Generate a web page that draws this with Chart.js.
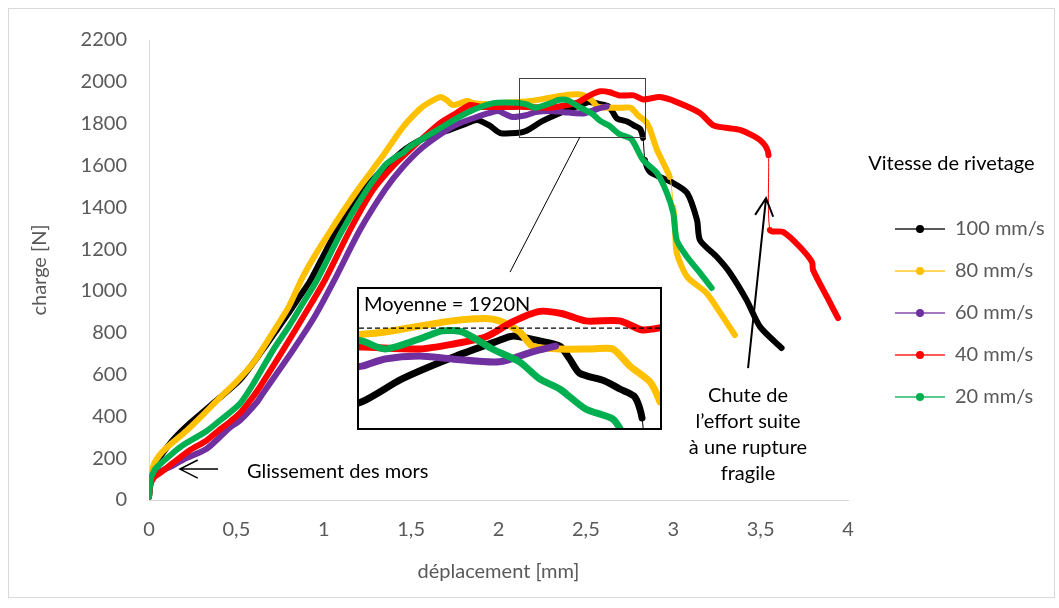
<!DOCTYPE html>
<html>
<head>
<meta charset="utf-8">
<script src="https://cdn.jsdelivr.net/npm/chart.js@4.4.0/dist/chart.umd.min.js"></script>
<style>
  body { margin: 0; background: #fff; }
  #wrap { position: relative; width: 1059px; height: 608px; overflow: hidden; background: #fff; }
  #frame { position: absolute; left: 8px; top: 8px; width: 1047px; height: 590px; border: 1px solid #d9d9d9; box-sizing: border-box; }
  #main { position: absolute; left: 0; top: 0; }
  #insetBox { position: absolute; left: 357px; top: 287px; width: 305px; height: 143px; border: 2px solid #000; box-sizing: border-box; background: #fff; }
  #inset { position: absolute; left: 0; top: 0; }
  .note { position: absolute; font-family: Lato, sans-serif; font-size: 20px; line-height: 24px; color: #000; white-space: nowrap; }
</style>
</head>
<body>
<div id="wrap">
  <div id="frame"></div>
  <canvas id="main" width="1059" height="608"></canvas>
  <div id="insetBox"><canvas id="inset" width="301" height="139"></canvas></div>
  <div class="note" style="left:364px;top:291px;">Moyenne = 1920N</div>
  <div class="note" style="left:247px;top:458px;">Glissement des mors</div>
  <div class="note" style="left:673px;top:381px;width:150px;text-align:center;line-height:26px;">Chute de<br>l’effort suite<br>à une rupture<br>fragile</div>
</div>
<script>
// déplacement [mm] / charge [N]
var d100 = [0, 0.01, 0.03, 0.063, 0.137, 0.235, 0.389, 0.52, 0.65, 0.72,
  0.8, 0.86, 0.92, 0.98, 1.076, 1.15, 1.23, 1.33, 1.47, 1.6,
  1.72, 1.8, 1.877, 1.95, 2.01, 2.1, 2.157, 2.253, 2.373, 2.476,
  2.517, 2.582, 2.63, 2.654, 2.678, 2.735, 2.774, 2.81, 2.827, 2.838,
  2.867, 3.0, 3.08, 3.136, 3.153, 3.25, 3.325, 3.42, 3.497, 3.62];
var f100 = [15, 100, 160, 206, 287, 368, 478, 574, 717, 800,
  895, 970, 1045, 1140, 1291, 1390, 1483, 1575, 1680, 1740,
  1770, 1795, 1817, 1790, 1755, 1755, 1765, 1813, 1858, 1891,
  1903, 1893, 1882, 1855, 1825, 1810, 1792, 1775, 1731, 1626,
  1569, 1516, 1468, 1339, 1243, 1162, 1086, 956, 828, 727];

var d80 = [0, 0.01, 0.03, 0.06, 0.1, 0.2, 0.3, 0.4, 0.5, 0.6,
  0.7, 0.8, 0.88, 0.95, 1.018, 1.11, 1.2, 1.333, 1.45, 1.55,
  1.6, 1.665, 1.7, 1.74, 1.82, 1.86, 1.95, 2.05, 2.198, 2.294,
  2.373, 2.45, 2.486, 2.534, 2.565, 2.63, 2.709, 2.757, 2.798, 2.846,
  2.87, 2.907, 2.95, 2.98, 2.99, 3.0, 3.01, 3.02, 3.08, 3.19,
  3.27, 3.353];
var f80 = [15, 110, 175, 215, 250, 320, 400, 485, 565, 660,
  790, 925, 1067, 1170, 1260, 1380, 1490, 1640, 1780, 1870,
  1900, 1927, 1915, 1889, 1908, 1898, 1893, 1900, 1910, 1924,
  1935, 1940, 1935, 1912, 1882, 1876, 1876, 1876, 1840, 1807,
  1765, 1674, 1600, 1545, 1497, 1400, 1300, 1181, 1067, 990,
  894, 789];

var d60 = [0, 0.01, 0.03, 0.06, 0.137, 0.2, 0.33, 0.46, 0.52, 0.62,
  0.652, 0.824, 0.95, 1.06, 1.207, 1.35, 1.45, 1.568, 1.705, 1.78,
  1.87, 1.95, 2.0, 2.04, 2.08, 2.157, 2.212, 2.294, 2.373, 2.486,
  2.565, 2.62];
var f60 = [15, 80, 110, 135, 165, 195, 245, 345, 380, 470,
  510, 717, 880, 1050, 1291, 1483, 1590, 1688, 1770, 1803,
  1830, 1851, 1860, 1845, 1832, 1840, 1855, 1861, 1855, 1849,
  1870, 1882];

var d40 = [0, 0.01, 0.03, 0.063, 0.137, 0.235, 0.33, 0.395, 0.46, 0.52,
  0.56, 0.618, 0.767, 0.9, 1.007, 1.15, 1.282, 1.4, 1.51, 1.665,
  1.76, 1.837, 1.9, 2.05, 2.157, 2.294, 2.373, 2.452, 2.517, 2.582,
  2.637, 2.692, 2.774, 2.829, 2.924, 3.02, 3.153, 3.227, 3.3, 3.382,
  3.45, 3.496, 3.53, 3.545, 3.553, 3.628, 3.725, 3.794, 3.8, 3.88,
  3.943];
var f40 = [15, 80, 110, 129, 177, 239, 285, 330, 372, 415,
  455, 520, 717, 900, 1052, 1291, 1483, 1600, 1688, 1803,
  1851, 1889, 1880, 1880, 1880, 1876, 1886, 1901, 1933, 1955,
  1950, 1935, 1935, 1916, 1927, 1903, 1851, 1793, 1780, 1770,
  1745, 1722, 1690, 1650, 1291, 1282, 1210, 1138, 1100, 971,
  870];

var d20 = [0, 0.01, 0.03, 0.046, 0.137, 0.2, 0.33, 0.42, 0.52, 0.6,
  0.71, 0.8, 0.88, 0.96, 1.1, 1.236, 1.35, 1.42, 1.453, 1.49,
  1.65, 1.817, 1.97, 2.1, 2.157, 2.212, 2.294, 2.349, 2.397, 2.469,
  2.534, 2.582, 2.63, 2.692, 2.757, 2.78, 2.827, 2.907, 2.964, 3.0,
  3.02, 3.08, 3.153, 3.22];
var f20 = [15, 100, 140, 158, 225, 265, 330, 390, 460, 560,
  717, 830, 940, 1050, 1280, 1470, 1600, 1645, 1660, 1688,
  1770, 1851, 1898, 1900, 1893, 1876, 1897, 1914, 1912, 1876,
  1849, 1813, 1792, 1750, 1729, 1700, 1626, 1564, 1468, 1373,
  1243, 1162, 1086, 1014];

// segments with only a few points (drawn as thin line)
var thin100 = [2.827];
var thin80 = [2.98, 2.99];
var thin40 = [3.545];

var speeds = ['100 mm/s', '80 mm/s', '60 mm/s', '40 mm/s', '20 mm/s'];
var colors = ['#000000', '#FFC000', '#7030A0', '#FF0000', '#00B050'];

var xTicks = [0, 4, 0.5];
var yTicks = [0, 2200, 200];
var zoomBoxX = [2.117, 2.838];
var zoomBoxY = [1736, 2018];
var insetX = [2.15, 2.87];
var insetY = [1710, 2002];
var meanLoad = 1920;

var series = [
  [d100, f100, thin100],
  [d80, f80, thin80],
  [d60, f60, []],
  [d40, f40, thin40],
  [d20, f20, []]
];

Chart.defaults.font.family = 'Lato, sans-serif';
Chart.defaults.font.size = 20;
Chart.defaults.color = '#595959';

function pts(xs, ys) {
  return xs.map(function (x, i) { return { x: x, y: ys[i] }; });
}

function makeDataset(i, width) {
  var s = series[i];
  return {
    label: speeds[i],
    data: pts(s[0], s[1]),
    borderColor: colors[i],
    backgroundColor: colors[i],
    borderWidth: width,
    borderCapStyle: 'round',
    borderJoinStyle: 'round',
    pointRadius: 0,
    tension: 0.25,
    order: 5 - i,
    segment: {
      borderWidth: function (ctx) {
        return s[2].indexOf(s[0][ctx.p0DataIndex]) >= 0 ? 1 : width;
      }
    }
  };
}

function legendIcon(color) {
  var c = document.createElement('canvas');
  c.width = 75; c.height = 12;
  var g = c.getContext('2d');
  g.globalAlpha = 0.65;
  g.strokeStyle = color; g.lineWidth = 2;
  g.beginPath(); g.moveTo(25, 6); g.lineTo(75, 6); g.stroke();
  g.globalAlpha = 1;
  g.fillStyle = color;
  g.beginPath(); g.arc(50, 6, 4, 0, Math.PI * 2); g.fill();
  return c;
}
var icons = colors.map(legendIcon);

function arrow(ctx, x0, y0, x1, y1, len, w) {
  var a = Math.atan2(y1 - y0, x1 - x0), h = 0.47;
  ctx.lineWidth = w;
  ctx.beginPath();
  ctx.moveTo(x0, y0); ctx.lineTo(x1, y1);
  ctx.moveTo(x1 - len * Math.cos(a - h), y1 - len * Math.sin(a - h));
  ctx.lineTo(x1, y1);
  ctx.lineTo(x1 - len * Math.cos(a + h), y1 - len * Math.sin(a + h));
  ctx.stroke();
}

var notes = {
  id: 'notes',
  afterDatasetsDraw: function (chart) {
    var ctx = chart.ctx, x = chart.scales.x, y = chart.scales.y;
    ctx.save();
    ctx.strokeStyle = '#404040';
    ctx.lineWidth = 1;
    var bx0 = x.getPixelForValue(zoomBoxX[0]), bx1 = x.getPixelForValue(zoomBoxX[1]);
    var by0 = y.getPixelForValue(zoomBoxY[1]), by1 = y.getPixelForValue(zoomBoxY[0]);
    ctx.strokeRect(Math.round(bx0) + 0.5, Math.round(by0) + 0.5, Math.round(bx1 - bx0), Math.round(by1 - by0));
    ctx.strokeStyle = '#000';
    ctx.beginPath();
    ctx.moveTo(x.getPixelForValue(2.466), by1);
    ctx.lineTo(x.getPixelForValue(2.066), y.getPixelForValue(1090));
    ctx.stroke();
    arrow(ctx, x.getPixelForValue(0.395), y.getPixelForValue(148), x.getPixelForValue(0.177), y.getPixelForValue(148), 20, 1.5);
    arrow(ctx, x.getPixelForValue(3.428), y.getPixelForValue(631), x.getPixelForValue(3.531), y.getPixelForValue(1444), 20, 2);
    ctx.restore();
  }
};

var mainChart = new Chart(document.getElementById('main'), {
  type: 'line',
  data: { datasets: speeds.map(function (s, i) { return makeDataset(i, 6); }) },
  options: {
    responsive: false,
    animation: false,
    layout: { padding: { left: 28, right: 15, top: 40, bottom: 10 } },
    scales: {
      x: {
        type: 'linear', min: xTicks[0], max: xTicks[1],
        grid: { display: false, drawTicks: false },
        border: { display: true, color: '#d9d9d9', width: 1 },
        ticks: { stepSize: xTicks[2], padding: 18, color: '#595959',
          callback: function (v) { return String(v).replace('.', ','); } },
        title: { display: true, text: 'déplacement [mm]', color: '#595959', font: { size: 20 }, padding: { top: 0, bottom: 0 } }
      },
      y: {
        min: yTicks[0], max: yTicks[1],
        grid: { display: false, drawTicks: false },
        border: { display: true, color: '#d9d9d9', width: 1 },
        ticks: { stepSize: yTicks[2], padding: 22, color: '#595959',
          callback: function (v) { return String(v); } },
        title: { display: true, text: 'charge [N]', color: '#595959', font: { size: 20 }, padding: { top: 0, bottom: 7 } }
      }
    },
    plugins: {
      tooltip: { enabled: false },
      legend: {
        position: 'right',
        align: 'start',
        title: { display: true, text: 'Vitesse de rivetage', color: '#000', font: { size: 20 }, padding: { top: 114, bottom: 19 } },
        labels: {
          usePointStyle: true,
          pointStyleWidth: 75,
          padding: 22,
          color: '#595959',
          font: { size: 20 },
          sort: function (a, b) { return a.datasetIndex - b.datasetIndex; },
          generateLabels: function (chart) {
            return Chart.defaults.plugins.legend.labels.generateLabels(chart).map(function (l) {
              l.pointStyle = icons[l.datasetIndex];
              return l;
            });
          }
        }
      }
    }
  },
  plugins: [notes]
});

// put the plot area where the reference has it
for (var k = 0; k < 2; k++) {
  var ca = mainChart.chartArea, pad = mainChart.options.layout.padding;
  pad.left += 149 - ca.left;
  pad.top += 40 - ca.top;
  pad.right += ca.right - 848;
  pad.bottom += ca.bottom - 500;
  mainChart.update('none');
}

var insetSets = speeds.map(function (s, i) { return makeDataset(i, 7); });
insetSets.push({
  data: [{ x: insetX[0], y: meanLoad }, { x: insetX[1], y: meanLoad }],
  borderColor: '#000', borderWidth: 1.2, borderDash: [5, 3], pointRadius: 0, order: 0
});

new Chart(document.getElementById('inset'), {
  type: 'line',
  data: { datasets: insetSets },
  options: {
    responsive: false,
    animation: false,
    layout: { padding: 0 },
    scales: {
      x: { type: 'linear', display: false, min: insetX[0], max: insetX[1] },
      y: { display: false, min: insetY[0], max: insetY[1] }
    },
    plugins: { legend: { display: false }, tooltip: { enabled: false } }
  }
});
</script>
</body>
</html>
